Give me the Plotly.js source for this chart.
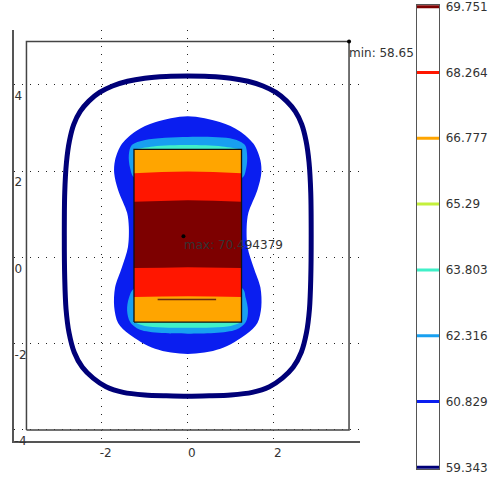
<!DOCTYPE html>
<html>
<head>
<meta charset="utf-8">
<script src="https://cdn.plot.ly/plotly-3.0.1.min.js"></script>
<style>html,body{margin:0;padding:0;background:#fff;}#chart{width:491px;height:479px;}</style>
</head>
<body>
<div id="chart"></div>
<script>
// ---- contour levels (colour legend) ----
const levels = [59.343, 60.829, 62.316, 63.803, 65.29, 66.777, 68.264, 69.751];
const levelLabels = ['59.343', '60.829', '62.316', '63.803', '65.29', '66.777', '68.264', '69.751'];
const levelColors = ['#000078', '#0a1ef0', '#18a0f0', '#40f0c8', '#c4f03c', '#ffa500', '#ff1600', '#7d0000'];

// ---- axis ticks ----
const xTickVals = [-2, 0, 2];
const xTickText = ['-2', '0', '2'];
const yTickVals = [-4, -2, 0, 2, 4];
const yTickText = ['-4', '-2', '0', '2', '4'];

// ---- geometry: computational domain and heated block ----
const domainX = [-3.75, 3.75, 3.75, -3.75, -3.75];
const domainY = [-4, -4, 5, 5, -4];
const blockX = [-1.25, 1.25, 1.25, -1.25, -1.25];
const blockY = [-1.5, -1.5, 2.5, 2.5, -1.5];

// ---- contour 59.343 (outer ring) ----
const ringX = [0, 0.5, 1.0, 1.4, 1.75, 2.05, 2.3, 2.5, 2.65, 2.75, 2.82, 2.86, 2.87, 2.86, 2.83, 2.76, 2.64, 2.45, 2.2, 1.9, 1.5, 1.0, 0.5, 0,
               -0.5, -1.0, -1.5, -1.9, -2.2, -2.45, -2.64, -2.76, -2.83, -2.86, -2.87, -2.86, -2.82, -2.75, -2.65, -2.5, -2.3, -2.05, -1.75, -1.4, -1.0, -0.5, 0];
const ringY = [4.2, 4.19, 4.15, 4.08, 3.97, 3.82, 3.62, 3.38, 3.08, 2.7, 2.2, 1.5, 0.5, -0.5, -1.2, -1.75, -2.2, -2.55, -2.8, -3.0, -3.13, -3.19, -3.21, -3.22,
               -3.21, -3.19, -3.13, -3.0, -2.8, -2.55, -2.2, -1.75, -1.2, -0.5, 0.5, 1.5, 2.2, 2.7, 3.08, 3.38, 3.62, 3.82, 3.97, 4.08, 4.15, 4.19, 4.2];

// ---- contour 60.829 (blue dog-bone) ----
const blueX = [0, 0.76, 1.2, 1.53, 1.69, 1.71, 1.62, 1.41, 1.37, 1.39, 1.53, 1.69, 1.71, 1.62, 1.36, 0.76, 0, -0.76, -1.36, -1.62, -1.71, -1.69, -1.53, -1.39, -1.37, -1.41, -1.62, -1.71, -1.69, -1.53, -1.2, -0.76, 0];
const blueY = [3.27, 3.13, 2.93, 2.63, 2.25, 1.95, 1.56, 1.03, 0.7, 0.24, -0.23, -0.7, -1.15, -1.52, -1.78, -2.12, -2.24, -2.12, -1.78, -1.52, -1.15, -0.7, -0.23, 0.24, 0.7, 1.03, 1.56, 1.95, 2.25, 2.63, 2.93, 3.13, 3.27];

// ---- contour 62.316 (light blue caps) ----
const lightTopX = [-1.23, -1.34, -1.37, -1.3, -0.99, 0, 1.05, 1.33, 1.38, 1.36, 1.26, -1.23];
const lightTopY = [1.84, 2.07, 2.37, 2.6, 2.72, 2.79, 2.74, 2.6, 2.37, 2.07, 1.84, 1.84];
const lightBotX = [-1.23, -1.37, -1.41, -1.34, -1.11, 0, 1.12, 1.35, 1.4, 1.35, 1.26, -1.23];
const lightBotY = [-0.71, -0.95, -1.23, -1.5, -1.68, -1.77, -1.68, -1.5, -1.23, -0.95, -0.71, -0.71];

// ---- contour 63.803 (thin aquamarine strips) ----
const aquaTopX = [-1.2, -0.8, 0, 0.8, 1.2, -1.2];
const aquaTopY = [2.5, 2.57, 2.6, 2.57, 2.5, 2.5];
const aquaBotX = [-1.22, -1.0, 0, 1.0, 1.22, -1.22];
const aquaBotY = [-1.5, -1.59, -1.63, -1.59, -1.5, -1.5];

// ---- bands inside the block ----
const bandX = [-1.25, -0.6, 0, 0.6, 1.25];
const orangeRedTop = [1.95, 1.98, 1.99, 1.98, 1.95];
const redDarkTop = [1.29, 1.31, 1.32, 1.31, 1.29];
const darkRedBottom = [-0.25, -0.24, -0.23, -0.24, -0.25];
const redOrangeBottom = [-0.92, -0.91, -0.9, -0.91, -0.92];
const seamX = [-0.7, 0.66];
const seamY = [-0.98, -0.98];

// ---- extrema ----
const minPoint = {x: 3.75, y: 5.0, value: '58.65'};
const maxPoint = {x: -0.1, y: 0.49, value: '70.494379'};

const FONT = 'DejaVu Sans, Verdana, sans-serif';
function band(top, bottom) {
  return {x: bandX.concat(bandX.slice().reverse()), y: top.concat(bottom.slice().reverse())};
}
function poly(x, y, color, shape) {
  return {type: 'scatter', mode: 'lines', x: x, y: y, fill: 'toself', fillcolor: color,
    line: {width: 0, color: color, shape: shape || 'linear', smoothing: 0.9}, hoverinfo: 'skip', showlegend: false};
}

const traces = [];
traces.push({type: 'scatter', mode: 'lines', x: ringX, y: ringY, line: {color: levelColors[0], width: 5, shape: 'spline', smoothing: 0.8}, showlegend: false});
traces.push(poly(blueX, blueY, levelColors[1], 'spline'));
traces.push(poly(lightTopX, lightTopY, levelColors[2], 'spline'));
traces.push(poly(lightBotX, lightBotY, levelColors[2], 'spline'));
traces.push(poly(aquaTopX, aquaTopY, levelColors[3], 'spline'));
traces.push(poly(aquaBotX, aquaBotY, levelColors[3], 'spline'));
traces.push(poly(blockX, blockY, levelColors[5]));
const rb = band(orangeRedTop, redOrangeBottom);
traces.push(poly(rb.x, rb.y, levelColors[6]));
const db = band(redDarkTop, darkRedBottom);
traces.push(poly(db.x, db.y, levelColors[7]));
traces.push({type: 'scatter', mode: 'lines', x: seamX, y: seamY, line: {color: '#6e2a10', width: 1.5}, showlegend: false});
traces.push({type: 'scatter', mode: 'lines', x: blockX, y: blockY, line: {color: '#111', width: 1.3}, showlegend: false});
traces.push({type: 'scatter', mode: 'lines', x: domainX, y: domainY, line: {color: '#444', width: 1.5}, showlegend: false, cliponaxis: false});
traces.push({type: 'scatter', mode: 'markers', x: [minPoint.x, maxPoint.x], y: [minPoint.y, maxPoint.y], marker: {color: '#000', size: 4}, showlegend: false, cliponaxis: false});

// colour legend lines
levels.forEach(function (lv, i) {
  traces.push({type: 'scatter', mode: 'lines', x: [0, 1], y: [lv, lv], xaxis: 'x2', yaxis: 'y2',
    line: {color: levelColors[i], width: 3}, showlegend: false});
});

const layout = {
  width: 491, height: 479,
  margin: {l: 0, r: 0, t: 0, b: 0},
  paper_bgcolor: '#fff', plot_bgcolor: '#fff',
  showlegend: false,
  font: {family: FONT, size: 12, color: '#333'},
  xaxis: {
    domain: [0.0285, 0.7332], range: [-4.04, 4.005], anchor: 'y',
    showline: true, linecolor: '#555', linewidth: 1.5,
    tickvals: xTickVals, ticktext: xTickText, ticks: '',
    ticklabelshift: 4, ticklabelstandoff: 0,
    showgrid: true, gridcolor: '#222', gridwidth: 1, griddash: '1px,7px',
    zeroline: false, tickfont: {family: FONT, size: 12, color: '#333'}
  },
  yaxis: {
    domain: [0.0793, 0.9374], range: [-4.257, 5.268], anchor: 'x',
    showline: true, linecolor: '#555', linewidth: 1.5,
    tickvals: yTickVals, ticktext: yTickText, ticks: '',
    ticklabelposition: 'inside', ticklabelshift: 11, ticklabelstandoff: 0, ticklabeloverflow: 'allow',
    showgrid: true, gridcolor: '#222', gridwidth: 1, griddash: '1px,7px',
    zeroline: false, tickfont: {family: FONT, size: 12, color: '#333'}
  },
  xaxis2: {
    domain: [0.8487, 0.8947], range: [0, 1], anchor: 'y2',
    showline: true, mirror: true, linecolor: '#555', linewidth: 1,
    showticklabels: false, ticks: '', showgrid: false, zeroline: false
  },
  yaxis2: {
    domain: [0.0209, 0.9896], range: [59.305, 69.789], anchor: 'x2', side: 'right',
    showline: true, mirror: true, linecolor: '#555', linewidth: 1,
    tickvals: levels, ticktext: levelLabels, ticks: '', ticklabelstandoff: 3, ticklabeloverflow: 'allow',
    showgrid: false, zeroline: false, tickfont: {family: FONT, size: 12, color: '#333'}
  },
  annotations: [
    {x: minPoint.x, y: 4.74, xref: 'x', yref: 'y', text: 'min: ' + minPoint.value, showarrow: false,
      xanchor: 'left', yanchor: 'middle', xshift: -2, font: {family: FONT, size: 12, color: '#333'}},
    {x: -0.085, y: 0.285, xref: 'x', yref: 'y', text: 'max: ' + maxPoint.value, showarrow: false,
      xanchor: 'left', yanchor: 'middle', xshift: -2, font: {family: FONT, size: 12, color: '#333'}}
  ]
};

Plotly.newPlot('chart', traces, layout, {displayModeBar: false, staticPlot: true});
</script>
</body>
</html>
